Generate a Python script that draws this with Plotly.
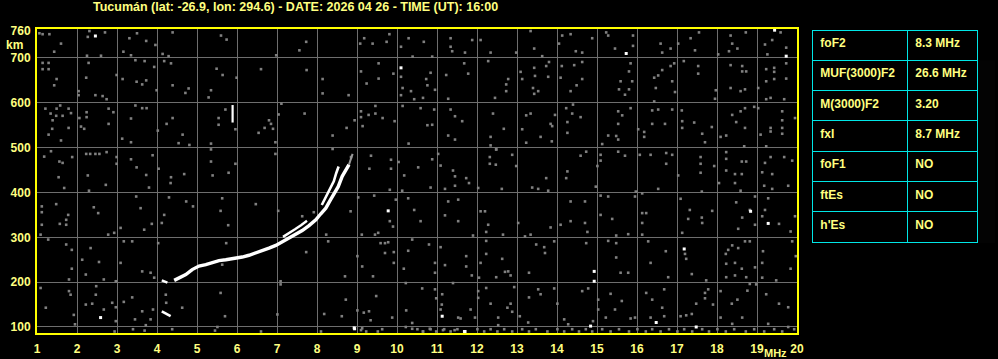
import plotly.graph_objects as go

# ---------------- data ----------------
title_text = "Tucumán (lat: -26.9, lon: 294.6) - DATE: 2026 04 26 - TIME (UT): 16:00"
x_ticks = list(range(1, 21))
y_ticks = [100, 200, 300, 400, 500, 600, 700, 760]
y_grid = [100, 200, 300, 400, 500, 600, 700]
x_grid = list(range(2, 20))

param_names = ["foF2", "MUF(3000)F2", "M(3000)F2", "fxI", "foF1", "ftEs", "h'Es"]
param_values = ["8.3 MHz", "26.6 MHz", "3.20", "8.7 MHz", "NO", "NO", "NO"]

# main echo trace (lower / X branch continuation)
main_f = [4.43, 4.55, 4.72, 4.88, 5.05, 5.22, 5.38, 5.55, 5.72, 5.97, 6.13, 6.30, 6.47, 6.63,
          6.80, 6.97, 7.13, 7.30, 7.47, 7.63, 7.80, 7.97, 8.09, 8.22, 8.34, 8.44, 8.53, 8.63,
          8.72, 8.80]
main_h = [204, 210, 217, 228, 236, 239, 244, 248, 250, 253, 256, 260, 265, 270,
          276, 282, 290, 297, 306, 315, 326, 339, 352, 365, 384, 398, 413, 436,
          450, 462]
# upper strand (O-mode) near the cusp
ocusp_f = [8.12, 8.19, 8.23, 8.30, 8.34, 8.42, 8.48, 8.54]
ocusp_h = [372, 385, 391, 402, 410, 425, 443, 458]
# split strand in the middle
mid_f = [7.15, 7.30, 7.45, 7.60, 7.75]
mid_h = [301, 309, 318, 327, 337]
# small segments
seg1_f = [4.12, 4.26]
seg1_h = [204, 199]
seg2_f = [4.12, 4.34]
seg2_h = [135, 124]
seg3_f = [5.89, 5.89]
seg3_h = [556, 595]
xtail_f = [8.80, 8.85, 8.89]
xtail_h = [462, 474, 486]

# isolated bright echoes
white_f = [2.46, 15.73, 19.44, 19.73, 18.84, 19.28, 17.18, 14.93, 14.93, 11.13, 16.48, 17.48,
           14.84, 11.70, 2.59, 9.78, 8.93, 10.10, 8.94, 11.69]
white_h = [749, 710, 762, 704, 358, 331, 274, 224, 202, 124, 110, 100,
           102, 90, 121, 359, 98, 678, 96, 90]

# background noise speckles
noise_f = [
    1.06, 1.14, 1.31, 1.60, 1.43, 2.27, 2.31, 2.70, 3.31, 3.50, 3.73, 3.96, 3.16, 3.35, 2.60, 2.25,
    4.39, 4.14, 4.29, 5.60, 5.74, 6.98, 7.56, 7.73, 9.08, 9.18, 9.39, 9.74, 9.81, 10.29, 10.10, 10.39,
    1.14, 1.29, 1.14, 1.29, 1.43, 1.49, 2.04, 2.04, 2.29, 2.23, 2.46, 2.64, 2.74, 2.99, 3.14, 3.49,
    3.63, 3.73, 3.46, 3.69, 3.93, 4.18, 4.35, 4.39, 3.99, 4.71, 4.79, 5.35, 5.29, 5.49, 5.64, 5.99,
    6.60, 7.74, 8.14, 8.14, 8.79, 9.10, 9.24, 9.54, 9.54, 9.91, 10.10, 10.14, 10.10, 10.35, 10.43,
    1.21, 1.34, 1.49, 1.58, 1.48, 1.64, 1.79, 1.85, 1.39, 1.29, 1.38, 1.60, 1.79, 2.10, 2.06, 2.24,
    2.24, 2.18, 2.79, 2.91, 2.79, 3.35, 3.13, 3.35, 3.46, 3.63, 3.74, 4.02, 4.24, 4.39, 4.64, 4.81,
    4.54, 5.35, 5.54, 5.54, 5.71, 5.96, 6.96, 7.04, 7.11, 7.69, 8.39, 8.74, 8.94, 9.10, 9.10, 9.29,
    9.46, 9.64, 9.46, 9.94, 10.14, 10.29, 9.14, 6.54, 6.69, 6.80, 6.85, 6.90,
    1.18, 1.35, 1.56, 1.64, 1.88, 2.23, 2.33, 2.46, 2.56, 2.74, 2.99, 2.99, 3.35, 3.49, 3.73, 3.89,
    4.04, 4.35, 4.68, 5.35, 5.35, 5.39, 5.79, 5.96, 6.96, 8.39, 8.85, 9.35, 9.31, 9.85, 9.85, 10.04,
    10.18, 2.27, 1.54,
    10.67, 10.88, 11.34, 11.34, 11.38, 11.70, 11.88, 12.09, 12.34, 12.98, 13.34, 13.43, 13.63, 14.05,
    14.13, 14.34, 14.47, 14.63, 14.88, 15.23, 15.28, 15.45, 15.90, 15.90, 16.59, 16.63, 16.84, 17.03,
    17.34, 17.45, 17.55, 18.03, 18.34, 18.38, 18.51, 18.30, 18.72, 19.20, 19.38, 19.59, 19.73, 19.26,
    10.84, 10.73, 10.76, 10.95, 10.65, 11.23, 11.28, 11.68, 11.78, 12.28, 12.73, 12.78, 12.73, 12.45,
    13.09, 13.13, 13.43, 13.45, 13.40, 13.53, 13.43, 13.78, 13.80, 13.73, 14.12, 14.09, 14.43, 14.63,
    14.63, 14.49, 14.34, 15.59, 15.80, 15.84, 15.88, 15.80, 15.55, 15.70, 16.43, 16.53, 16.63, 16.84,
    16.93, 16.88, 16.47, 16.95, 16.43, 17.17, 17.53, 17.53, 17.97, 17.95, 18.34, 18.63, 18.63, 18.73,
    18.34, 18.59, 18.70, 19.03, 19.23, 19.43, 19.43, 19.23, 19.43, 19.73, 19.73, 19.34, 19.68, 19.23,
    10.59, 10.76, 10.88, 10.93, 11.34, 11.45, 11.63, 11.28, 11.45, 12.40, 12.67, 12.34, 12.34, 12.48,
    13.23, 13.34, 13.13, 13.23, 13.59, 13.84, 13.88, 13.95, 13.87, 14.23, 14.38, 14.26, 14.26, 14.59,
    14.40, 15.28, 15.48, 15.53, 15.63, 15.53, 15.84, 15.53, 15.13, 16.03, 16.18, 16.18, 16.38, 16.38,
    16.53, 16.70, 16.88, 17.12, 17.13, 17.13, 17.43, 17.63, 17.87, 17.70, 18.09, 18.23, 18.38, 18.48,
    18.59, 18.70, 18.70, 18.93, 19.03, 19.34, 19.34, 19.63, 19.63, 19.63, 19.63, 19.95, 19.09, 19.23,
    18.68,
    11.03, 10.88, 10.53, 11.09, 11.40, 11.45, 11.73, 12.32, 12.32, 12.47, 12.48, 12.88, 12.98, 13.73,
    14.26, 14.23, 14.59, 14.73, 15.09, 15.09, 15.01, 15.53, 15.70, 16.07, 16.34, 16.73, 16.73, 16.88,
    17.03, 17.59, 17.59, 17.59, 17.93, 18.23, 18.23, 18.23, 18.62, 18.73, 18.45, 18.62, 19.20, 19.13,
    19.34, 19.68, 19.88, 19.38,
    1.12, 1.12, 1.12, 1.09, 1.48, 1.73, 1.73, 1.57, 1.78, 1.68, 2.30, 2.42, 2.53, 2.78, 2.93, 2.72,
    3.09, 3.48, 3.59, 3.68, 3.80, 3.87, 4.12, 4.18, 4.30, 4.34, 4.73, 4.90, 5.63, 5.59, 5.78, 6.47,
    7.03, 7.63, 7.92, 9.03, 9.43, 9.82, 9.97, 10.13, 10.28, 10.43, 9.82, 9.90, 9.53, 9.45, 9.12, 8.84,
    8.23,
    1.28, 1.73, 1.87, 1.87, 1.80, 2.55, 2.34, 2.13, 2.22, 2.67, 3.09, 2.97, 3.17, 3.38, 3.63, 3.84,
    3.93, 4.03, 5.73, 5.63, 7.09, 7.73, 8.28, 8.70, 9.01, 9.13, 9.40, 9.70, 9.92, 9.92, 10.17, 9.59,
    9.70, 9.78, 10.28, 10.38, 10.22,
    1.09, 1.22, 1.80, 1.84, 2.22, 2.48, 2.47, 2.38, 2.67, 2.88, 2.97, 3.17, 3.38, 3.45, 3.63, 3.84,
    3.90, 4.22, 4.23, 4.63, 5.59, 5.70, 5.51, 7.01, 7.09, 8.18, 8.62, 8.72, 9.01, 9.17, 9.30, 9.48,
    9.88, 10.23, 10.38, 10.22, 9.34, 9.63, 9.13, 1.95, 2.97, 4.38, 3.72,
    10.84, 11.20, 11.45, 11.80, 12.03, 12.62, 13.38, 13.53, 13.78, 14.97, 15.09, 15.28, 15.97, 15.95,
    16.13, 16.53, 17.09, 17.62, 18.05, 18.45, 18.59, 19.18, 19.38, 18.95, 19.28, 19.78, 11.28, 11.53,
    10.59, 11.20, 11.53, 12.09, 12.20, 12.28, 12.23, 11.90, 12.65, 13.03, 13.20, 13.34, 13.84, 14.09,
    14.34, 14.34, 14.70, 14.70, 14.76, 15.09, 15.38, 15.48, 15.78, 16.13, 16.23, 16.13, 16.13, 17.32,
    17.28, 17.62, 17.88, 17.63, 17.13, 18.48, 18.63, 18.53, 18.95, 19.13, 19.20, 19.55, 19.95, 19.84,
    18.82,
    10.80, 11.09, 10.95, 10.95, 11.20, 11.73, 11.73, 11.87, 12.05, 12.09, 12.23, 12.23, 12.48, 12.63,
    12.70, 12.84, 12.78, 13.30, 13.48, 13.68, 13.70, 13.93, 14.73, 15.28, 15.48, 15.48, 15.59, 15.78,
    16.28, 16.34, 16.72, 16.78, 17.20, 17.23, 17.37, 17.73, 18.22, 18.28, 18.38, 18.53, 18.23, 18.45,
    18.62, 18.23, 18.73, 18.45, 18.95, 19.13, 19.15, 19.13, 19.48, 19.84, 19.97, 19.88, 18.70, 18.82,
    10.63, 10.95, 10.98, 11.13, 11.12, 11.09, 11.40, 11.53, 11.59, 11.84, 11.95, 12.03, 12.03, 12.23,
    12.34, 12.53, 12.53, 12.76, 12.84, 12.93, 12.88, 13.07, 13.30, 13.28, 13.53, 13.59, 13.93, 14.01,
    14.18, 14.28, 14.63, 14.78, 14.90, 15.03, 15.03, 15.22, 15.34, 15.45, 15.62, 15.84, 15.95, 16.23,
    16.38, 16.34, 16.68, 16.68, 16.63, 17.09, 17.23, 17.37, 17.48, 17.70, 17.70, 17.78, 17.90, 18.09,
    18.09, 18.37, 18.38, 18.51, 18.63, 18.76, 18.82, 18.98, 19.23, 19.28, 19.55, 19.78, 19.78,
    10.51, 10.65, 10.84, 10.98, 11.18, 11.34, 11.51, 11.68, 12.01, 12.18, 12.34, 12.51, 12.68, 12.88,
    13.13, 13.30, 13.47, 13.76, 14.01, 14.18, 14.38, 14.55, 14.72, 14.88, 15.13, 15.34, 15.55, 15.80,
    16.01, 16.22, 16.38, 16.59, 16.80, 17.01, 17.18, 17.38, 17.63, 17.80, 18.01, 18.22, 18.43, 18.72,
    18.93, 19.18, 19.43, 19.63, 19.93,
    2.94, 3.69, 6.60, 8.10, 9.10, 9.23, 9.52, 10.38, 10.65, 10.82, 11.15, 11.44, 1.92, 3.40, 5.45,
]
noise_h = [
    755, 753, 753, 732, 714, 747, 760, 757, 744, 755, 738, 729, 714, 706, 705, 705,
    757, 709, 704, 750, 741, 706, 717, 736, 732, 744, 732, 736, 753, 744, 725, 703,
    689, 689, 675, 675, 639, 653, 626, 617, 689, 656, 617, 615, 608, 662, 653, 647,
    641, 650, 695, 693, 680, 693, 688, 639, 628, 622, 632, 628, 612, 676, 662, 656,
    675, 673, 653, 621, 617, 670, 643, 654, 688, 665, 658, 633, 617, 626, 608,
    587, 576, 587, 594, 571, 571, 587, 577, 561, 529, 542, 516, 544, 547, 566, 579,
    568, 542, 587, 579, 553, 565, 520, 512, 594, 588, 588, 538, 553, 566, 529, 506,
    510, 509, 566, 551, 585, 541, 512, 574, 598, 576, 527, 544, 561, 581, 568, 573,
    576, 566, 593, 559, 593, 509, 548, 533, 544, 561, 553, 542,
    480, 492, 469, 466, 479, 486, 486, 486, 486, 490, 479, 464, 474, 456, 439, 483,
    453, 434, 441, 496, 469, 438, 444, 464, 486, 497, 479, 482, 453, 473, 453, 468,
    438, 438, 434,
    736, 703, 744, 725, 715, 712, 740, 740, 712, 712, 760, 721, 704, 732,
    750, 753, 715, 712, 744, 757, 750, 721, 750, 727, 732, 712, 721, 732,
    744, 717, 757, 708, 750, 732, 721, 715, 757, 730, 740, 757, 723, 708,
    667, 653, 639, 629, 611, 662, 609, 688, 665, 693, 641, 653, 626, 611,
    669, 653, 678, 660, 633, 626, 620, 658, 691, 682, 682, 656, 684, 691,
    653, 639, 626, 648, 670, 688, 648, 630, 630, 618, 656, 661, 673, 682,
    688, 648, 633, 624, 603, 693, 682, 665, 628, 609, 684, 682, 670, 670,
    633, 626, 630, 633, 675, 678, 669, 648, 653, 688, 654, 611, 608, 608,
    588, 550, 551, 585, 585, 570, 559, 527, 518, 576, 542, 524, 505, 496,
    572, 576, 541, 511, 524, 553, 548, 573, 514, 588, 576, 557, 533, 568,
    596, 527, 526, 581, 572, 553, 588, 518, 508, 541, 535, 524, 583, 553,
    585, 553, 585, 583, 559, 544, 556, 531, 546, 512, 524, 527, 573, 557,
    581, 588, 544, 591, 588, 544, 536, 561, 544, 581, 531, 566, 529, 503,
    503,
    486, 474, 456, 460, 449, 436, 432, 479, 464, 462, 496, 484, 459, 432,
    447, 432, 482, 491, 484, 471, 459, 491, 482, 484, 484, 488, 464, 484,
    438, 479, 464, 444, 459, 490, 475, 449, 469, 469, 441, 441, 466, 445,
    479, 479, 471, 441,
    369, 356, 328, 306, 374, 339, 328, 330, 350, 410, 404, 367, 354, 306, 310, 417,
    321, 391, 365, 317, 411, 330, 332, 350, 389, 421, 380, 369, 387, 359, 327, 374,
    359, 347, 356, 389, 393, 406, 384, 404, 387, 361, 336, 324, 310, 306, 306, 358,
    306,
    295, 284, 272, 230, 206, 245, 276, 250, 217, 206, 243, 202, 291, 291, 224, 221,
    210, 287, 287, 239, 202, 267, 291, 213, 258, 235, 213, 265, 267, 243, 230, 287,
    287, 289, 270, 295, 198,
    187, 143, 180, 172, 150, 191, 172, 152, 139, 154, 144, 156, 166, 117, 135, 117,
    139, 172, 154, 143, 176, 124, 100, 128, 195, 129, 124, 161, 137, 132, 135, 169,
    121, 137, 109, 100, 115, 95, 97, 106, 113, 95, 104,
    411, 408, 415, 421, 410, 408, 411, 408, 404, 413, 393, 391, 402, 391,
    398, 408, 386, 402, 421, 421, 404, 415, 408, 391, 387, 415, 380, 384,
    336, 349, 336, 358, 358, 328, 312, 304, 306, 332, 302, 306, 322, 328,
    380, 336, 380, 332, 312, 350, 341, 304, 307, 354, 354, 332, 306, 361,
    341, 344, 359, 332, 310, 378, 344, 319, 328, 347, 361, 330, 347, 313,
    361,
    284, 278, 243, 221, 238, 258, 235, 215, 210, 243, 263, 292, 211, 252,
    223, 215, 224, 221, 284, 278, 265, 291, 287, 292, 287, 255, 221, 221,
    291, 243, 269, 211, 263, 252, 218, 204, 263, 272, 282, 276, 241, 243,
    230, 211, 211, 215, 233, 243, 269, 210, 204, 230, 258, 291, 291, 291,
    186, 184, 164, 173, 150, 139, 198, 121, 119, 139, 121, 180, 165, 187,
    152, 121, 104, 143, 152, 189, 134, 124, 166, 110, 184, 173, 186, 152,
    117, 106, 180, 186, 113, 161, 139, 121, 174, 139, 158, 119, 121, 176,
    161, 121, 184, 124, 143, 124, 126, 129, 152, 176, 164, 184, 150, 180,
    121, 152, 107, 161, 121, 181, 196, 195, 173, 107, 152, 144, 100,
    95, 90, 95, 90, 95, 90, 95, 90, 95, 90, 95, 90, 95, 90,
    95, 90, 95, 90, 95, 90, 95, 90, 95, 90, 95, 90, 95, 90,
    95, 90, 95, 90, 95, 90, 95, 90, 95, 90, 95, 90, 95, 90,
    95, 90, 95, 90, 95,
    90, 92, 90, 90, 93, 90, 90, 96, 90, 96, 93, 93, 127, 95, 92,
]

# ---------------- layout geometry (pixels of the 998x359 page) ----------------
W, H = 998, 359
ML, MR, MT, MB = 37, 1, 29, 26
PW = W - ML - MR          # plotting region width
PH = H - MT - MB          # plotting region height
AXIS_RIGHT = 797          # right edge of the ionogram frame


def px_x(p):
    return (p - ML) / PW


def px_y(p):
    return (H - MB - p) / PH


# ---------------- styles ----------------
YEL_TXT = "#ffff80"
YEL_LINE = "#ffff00"
GRID = "#6e6e6e"
CYAN = "#00e6e6"
FONT = "Liberation Sans"
BOLD12 = dict(family=FONT, size=12, color=YEL_TXT, weight="bold")

fig = go.Figure()

fig.add_trace(go.Scatter(x=noise_f, y=noise_h, mode="markers",
                         marker=dict(symbol="square", size=2.6, color="#808080", line=dict(width=0)),
                         hoverinfo="skip", showlegend=False))
fig.add_trace(go.Scatter(x=white_f, y=white_h, mode="markers",
                         marker=dict(symbol="square", size=3, color="#ffffff", line=dict(width=0)),
                         hoverinfo="skip", showlegend=False))

for fx, hy, w in [(main_f, main_h, 3.4), (ocusp_f, ocusp_h, 2.6), (mid_f, mid_h, 2.4),
                  (seg1_f, seg1_h, 2.6), (seg2_f, seg2_h, 2.6), (seg3_f, seg3_h, 2.2)]:
    fig.add_trace(go.Scatter(x=fx, y=hy, mode="lines", line=dict(color="#ffffff", width=w),
                             hoverinfo="skip", showlegend=False))
fig.add_trace(go.Scatter(x=xtail_f, y=xtail_h, mode="lines", line=dict(color="#9a9a9a", width=2),
                         hoverinfo="skip", showlegend=False))

# parameter table (non-breaking spaces keep "26.6 MHz" on one line)
shown_values = [v.replace(" ", "\u00a0") for v in param_values]
fig.add_trace(go.Table(
    domain=dict(x=[px_x(812.3), px_x(977.5)], y=[px_y(243), px_y(30)]),
    columnwidth=[95, 70],
    header=dict(values=[param_names[0], shown_values[0]], height=30.3,
                fill_color="#000000", line=dict(color=CYAN, width=1),
                align="left", font=BOLD12),
    cells=dict(values=[param_names[1:], shown_values[1:]], height=30.3,
               fill_color="#000000", line=dict(color=CYAN, width=1),
               align="left", font=BOLD12),
))

fig.update_layout(
    width=W, height=H,
    margin=dict(l=ML, r=MR, t=MT, b=MB, pad=0, autoexpand=False),
    paper_bgcolor="#000000", plot_bgcolor="#000000",
    font=BOLD12,
    showlegend=False,
    xaxis=dict(domain=[0, px_x(AXIS_RIGHT)], range=[1, 20], tickvals=x_ticks,
               ticktext=[str(v) for v in x_ticks], automargin=False,
               showgrid=False, zeroline=False,
               showline=True, linecolor=YEL_LINE, linewidth=2, mirror=True,
               ticks="", ticklen=0, ticklabelstandoff=4,
               tickfont=BOLD12,
               minor=dict(tickvals=x_grid, showgrid=True, gridcolor=GRID, gridwidth=1, ticks=""),
               fixedrange=True),
    yaxis=dict(range=[86.6, 764.6], tickvals=y_ticks, ticktext=[str(v) for v in y_ticks],
               automargin=False,
               showgrid=False, zeroline=False,
               showline=True, linecolor=YEL_LINE, linewidth=2, mirror=True,
               ticks="", ticklen=0, ticklabelstandoff=2,
               tickfont=BOLD12,
               minor=dict(tickvals=y_grid, showgrid=True, gridcolor=GRID, gridwidth=1, ticks=""),
               fixedrange=True),
    annotations=[
        dict(text=title_text, x=px_x(295), y=px_y(7), xref="paper", yref="paper",
             xanchor="center", yanchor="middle", showarrow=False,
             font=dict(family=FONT, size=12.5, color=YEL_TXT, weight="bold")),
        dict(text="km", x=px_x(14), y=px_y(45), xref="paper", yref="paper",
             xanchor="center", yanchor="middle", showarrow=False, font=BOLD12),
        dict(text="MHz", x=px_x(789), y=px_y(353), xref="paper", yref="paper",
             xanchor="right", yanchor="middle", showarrow=False,
             font=dict(family=FONT, size=11, color=YEL_TXT, weight="bold")),
    ],
)

fig.write_html("out.html")
